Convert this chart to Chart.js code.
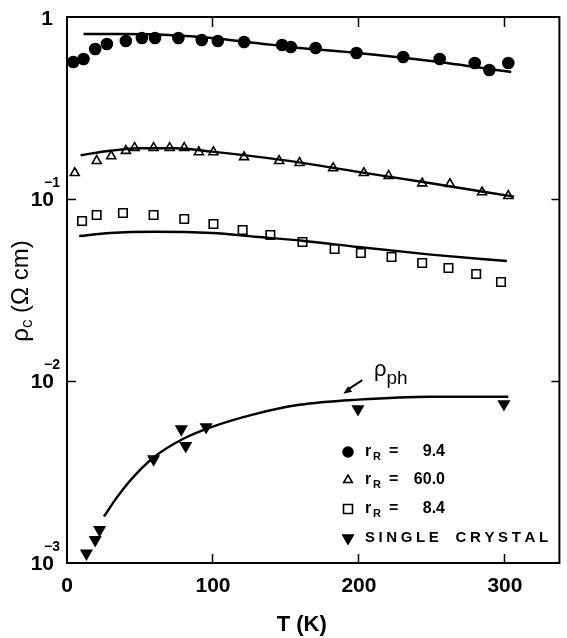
<!DOCTYPE html>
<html>
<head>
<meta charset="utf-8">
<script src="https://cdn.jsdelivr.net/npm/chart.js@4.4.0/dist/chart.umd.min.js"></script>
<style>
  html, body { margin: 0; padding: 0; background: #fff; }
  #wrap { width: 567px; height: 638px; position: relative; }
</style>
</head>
<body>
<div id="wrap"><canvas id="chart"></canvas></div>
<script>
// --- data ---

// r_R = 9.4 (filled circles)
const circT   = [5, 12, 20, 28, 41, 52, 61, 77, 93, 104, 122, 148, 154, 171, 199, 231, 256, 280, 290, 303];
const circRho = [0.566, 0.588, 0.667, 0.711, 0.738, 0.767, 0.767, 0.767, 0.748, 0.738, 0.729, 0.702, 0.684, 0.676, 0.634, 0.603, 0.588, 0.559, 0.511, 0.559];
const circFitT   = [12, 40, 70, 100, 130, 160, 200, 250, 305];
const circFitRho = [0.807, 0.807, 0.796, 0.767, 0.720, 0.676, 0.634, 0.573, 0.499];

// r_R = 60.0 (open triangles)
const triT   = [6, 21, 31, 41, 47, 60, 71, 81, 91, 101, 122, 146, 160, 183, 204, 221, 244, 263, 285, 303];
const triRho = [0.139, 0.162, 0.172, 0.184, 0.191, 0.191, 0.191, 0.191, 0.181, 0.181, 0.170, 0.162, 0.158, 0.148, 0.139, 0.134, 0.122, 0.121, 0.109, 0.104];
const triFitT   = [10, 30, 50, 75, 100, 150, 200, 250, 307];
const triFitRho = [0.174, 0.184, 0.190, 0.190, 0.182, 0.163, 0.141, 0.122, 0.103];

// r_R = 8.4 (open squares)
const sqT   = [11, 21, 39, 60, 81, 101, 121, 140, 162, 184, 202, 223, 244, 262, 281, 298];
const sqRho = [0.0757, 0.0817, 0.0838, 0.0817, 0.0777, 0.0729, 0.0676, 0.0634, 0.0580, 0.0531, 0.0505, 0.0480, 0.0445, 0.0418, 0.0387, 0.0350];
const sqFitT   = [9, 30, 60, 100, 130, 162, 200, 250, 302];
const sqFitRho = [0.0626, 0.0650, 0.0661, 0.0650, 0.0620, 0.0590, 0.0545, 0.0495, 0.0456];

// single crystal (filled inverted triangles) and rho_ph curve
const scT   = [14, 20, 23, 60, 79, 82, 96, 200, 300];
const scRho = [0.00113, 0.00134, 0.00152, 0.00372, 0.00544, 0.00440, 0.00559, 0.00702, 0.00748];
const phT   = [26, 35, 45, 60, 80, 100, 130, 160, 200, 250, 303];
const phRho = [0.0018, 0.0023, 0.0029, 0.0038, 0.0048, 0.0056, 0.0066, 0.0074, 0.0079, 0.0082, 0.0082];

// axes
const xTicks = [0, 100, 200, 300];
const yDecades = [1, 0.1, 0.01, 0.001];
const yExp = ['', '-1', '-2', '-3'];
const legendLabels = ['9.4', '60.0', '8.4'];

const pts = (xs, ys) => xs.map((x, i) => ({ x: x, y: ys[i] }));

function markerSet(xs, ys, style, fill, radius, rotation) {
    return {
        type: 'scatter',
        data: pts(xs, ys),
        pointStyle: style,
        pointRadius: radius,
        pointRotation: rotation || 0,
        pointBackgroundColor: fill,
        pointBorderColor: '#000',
        pointBorderWidth: 1.6,
        showLine: false
    };
}

function curveSet(xs, ys) {
    return {
        type: 'line',
        data: pts(xs, ys),
        borderColor: '#000',
        borderWidth: 2.4,
        pointRadius: 0,
        fill: false,
        cubicInterpolationMode: 'monotone'
    };
}

// small marker drawer for the legend
function drawMarker(ctx, style, x, y, r, filled) {
    ctx.save();
    ctx.beginPath();
    ctx.lineWidth = 1.6;
    ctx.strokeStyle = '#000';
    ctx.fillStyle = filled ? '#000' : '#fff';
    if (style === 'circle') {
        ctx.arc(x, y, r, 0, Math.PI * 2);
    } else if (style === 'triangle') {
        ctx.moveTo(x, y - r);
        ctx.lineTo(x + r * 0.866, y + r * 0.5);
        ctx.lineTo(x - r * 0.866, y + r * 0.5);
        ctx.closePath();
    } else if (style === 'down') {
        ctx.moveTo(x, y + r);
        ctx.lineTo(x + r * 0.866, y - r * 0.5);
        ctx.lineTo(x - r * 0.866, y - r * 0.5);
        ctx.closePath();
    } else {
        ctx.rect(x - r, y - r, 2 * r, 2 * r);
    }
    ctx.fill();
    ctx.stroke();
    ctx.restore();
}

const decor = {
    id: 'decor',
    afterDatasetsDraw(chart) {
        const ctx = chart.ctx;
        const a = chart.chartArea;
        const xs = chart.scales.x, ys = chart.scales.y;
        ctx.save();
        ctx.strokeStyle = '#000';
        ctx.fillStyle = '#000';

        // frame
        ctx.lineWidth = 2;
        ctx.strokeRect(a.left + 1, a.top, a.right - a.left - 1, a.bottom - a.top);

        // inward ticks
        ctx.lineWidth = 1.5;
        ctx.beginPath();
        xTicks.slice(1).forEach(v => {
            const px = Math.round(xs.getPixelForValue(v)) + 0.5;
            ctx.moveTo(px, a.bottom); ctx.lineTo(px, a.bottom - 9);
            ctx.moveTo(px, a.top); ctx.lineTo(px, a.top + 10);
        });
        yDecades.slice(1, 3).forEach(v => {
            const py = Math.round(ys.getPixelForValue(v)) + 0.5;
            ctx.moveTo(a.left, py); ctx.lineTo(a.left + 10, py);
            ctx.moveTo(a.right, py); ctx.lineTo(a.right - 8, py);
        });
        ctx.stroke();

        // x tick labels
        ctx.font = 'bold 21px "Liberation Sans", Arial, sans-serif';
        ctx.textAlign = 'center';
        ctx.textBaseline = 'middle';
        xTicks.forEach(v => {
            ctx.fillText(String(v), xs.getPixelForValue(v) + 1, a.bottom + 23);
        });

        // y tick labels (10 with superscript exponent)
        yDecades.forEach((v, i) => {
            const py = ys.getPixelForValue(v);
            ctx.textBaseline = 'middle';
            if (yExp[i] === '') {
                ctx.font = 'bold 21px "Liberation Sans", Arial, sans-serif';
                ctx.textAlign = 'right';
                ctx.fillText('1', a.left - 13, py + 2);
            } else {
                ctx.font = 'bold 21px "Liberation Sans", Arial, sans-serif';
                ctx.textAlign = 'right';
                ctx.fillText('10', a.left - 12, py + 1);
                ctx.font = 'bold 14px "Liberation Sans", Arial, sans-serif';
                ctx.textAlign = 'left';
                ctx.fillText(yExp[i].replace('-', '\u2212'), a.left - 22, py - 16);
            }
        });

        // x axis title
        ctx.font = 'bold 22px "Liberation Sans", Arial, sans-serif';
        ctx.textAlign = 'center';
        ctx.textBaseline = 'middle';
        ctx.fillText('T (K)', (a.left + a.right) / 2 - 11, a.bottom + 62);

        // y axis title, rotated
        ctx.save();
        ctx.translate(21, 291);
        ctx.rotate(-Math.PI / 2);
        ctx.textBaseline = 'middle';
        ctx.textAlign = 'left';
        const big = '24px "Liberation Sans", Arial, sans-serif';
        const small = '17px "Liberation Sans", Arial, sans-serif';
        ctx.font = big;
        const w1 = ctx.measureText('\u03C1').width;
        ctx.font = small;
        const w2 = ctx.measureText('c').width;
        ctx.font = big;
        const w3 = ctx.measureText(' (\u03A9 cm)').width;
        let x0 = -(w1 + w2 + w3) / 2;
        ctx.fillText('\u03C1', x0, 0);
        ctx.font = small;
        ctx.fillText('c', x0 + w1, 6);
        ctx.font = big;
        ctx.fillText(' (\u03A9 cm)', x0 + w1 + w2, 0);
        ctx.restore();

        // rho_ph annotation with arrow
        const tipX = xs.getPixelForValue(190), tipY = ys.getPixelForValue(0.0085);
        const tailX = xs.getPixelForValue(203), tailY = ys.getPixelForValue(0.0101);
        ctx.lineWidth = 2;
        ctx.beginPath();
        ctx.moveTo(tailX, tailY);
        ctx.lineTo(tipX + 4, tipY - 4);
        ctx.stroke();
        const ang = Math.atan2(tipY - tailY, tipX - tailX);
        ctx.beginPath();
        ctx.moveTo(tipX, tipY);
        ctx.lineTo(tipX - 9 * Math.cos(ang - 0.4), tipY - 9 * Math.sin(ang - 0.4));
        ctx.lineTo(tipX - 9 * Math.cos(ang + 0.4), tipY - 9 * Math.sin(ang + 0.4));
        ctx.closePath();
        ctx.fill();
        const lx = xs.getPixelForValue(211), ly = ys.getPixelForValue(0.0115);
        ctx.textAlign = 'left';
        ctx.textBaseline = 'middle';
        ctx.font = '22px "Liberation Sans", Arial, sans-serif';
        ctx.fillText('\u03C1', lx, ly);
        const rw = ctx.measureText('\u03C1').width;
        ctx.font = '19px "Liberation Sans", Arial, sans-serif';
        ctx.fillText('ph', lx + rw, ly + 9);

        // legend
        const rows = [452, 480, 509, 538];
        const styles = ['circle', 'triangle', 'square', 'down'];
        const fills = [true, false, false, true];
        const radii = [5, 5, 4.5, 6];
        rows.forEach((ry, i) => {
            drawMarker(ctx, styles[i], 348, ry, radii[i], fills[i]);
        });
        ctx.textBaseline = 'middle';
        legendLabels.forEach((lab, i) => {
            const ry = rows[i];
            ctx.textAlign = 'left';
            ctx.font = 'bold 16px "Liberation Sans", Arial, sans-serif';
            ctx.fillText('r', 365, ry);
            ctx.font = 'bold 11px "Liberation Sans", Arial, sans-serif';
            ctx.fillText('R', 373, ry + 5);
            ctx.font = 'bold 16px "Liberation Sans", Arial, sans-serif';
            ctx.fillText('=', 389, ry);
            ctx.textAlign = 'right';
            ctx.fillText(lab, 445, ry);
        });
        ctx.textAlign = 'left';
        ctx.font = 'bold 15px "Liberation Sans", Arial, sans-serif';
        let cx = 365;
        'SINGLE CRYSTAL'.split('').forEach(ch => {
            ctx.fillText(ch, cx, rows[3]);
            cx += ctx.measureText(ch).width + (ch === ' ' ? 9 : 3.6);
        });

        ctx.restore();
    }
};

new Chart(document.getElementById('chart'), {
    data: {
        datasets: [
            curveSet(circFitT, circFitRho),
            curveSet(triFitT, triFitRho),
            curveSet(sqFitT, sqFitRho),
            curveSet(phT, phRho),
            markerSet(circT, circRho, 'circle', '#000', 5.5),
            markerSet(triT, triRho, 'triangle', '#fff', 5.2),
            markerSet(sqT, sqRho, 'rect', '#fff', 6),
            markerSet(scT, scRho, 'triangle', '#000', 6, 180)
        ]
    },
    options: {
        responsive: true,
        maintainAspectRatio: false,
        animation: false,
        layout: { padding: { left: 66, right: 1, top: 17, bottom: 75 } },
        scales: {
            x: { type: 'linear', display: false, min: 0, max: 338 },
            y: { type: 'logarithmic', display: false, min: 0.001, max: 1 }
        },
        plugins: {
            legend: { display: false },
            tooltip: { enabled: false }
        }
    },
    plugins: [decor]
});
</script>
</body>
</html>
